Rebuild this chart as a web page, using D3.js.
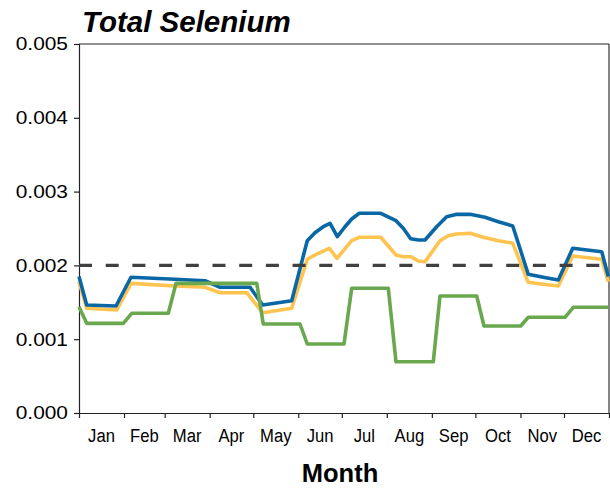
<!DOCTYPE html>
<html>
<head>
<meta charset="utf-8">
<script src="https://cdn.jsdelivr.net/npm/d3@7"></script>
<style>
  body { margin: 0; background: #fff; }
  svg { display: block; }
  text { font-family: "Liberation Sans", Arial, sans-serif; fill: #000; }
</style>
</head>
<body>
<svg id="chart" width="610" height="489"></svg>
<script>
// Day-of-year positions (0..365) and values (mg/L)
const months = ["Jan","Feb","Mar","Apr","May","Jun","Jul","Aug","Sep","Oct","Nov","Dec"];
const monthDays = [31,28,31,30,31,30,31,31,30,31,30,31];
const yTicks = [0, 0.001, 0.002, 0.003, 0.004, 0.005];
const threshold = 0.002;

const blueDays = [0,5.3,25.5,35.8,66.1,86.8,97.1,117.8,126.5,146.5,157.2,162.5,168.2,172.9,177.9,183.2,187.8,193,207.8,218.3,223.3,228.4,233.7,238.3,246.3,253.2,260.1,269.3,279.6,288.8,298.7,309.4,319.7,330.1,340,360,364.5];
const blueVals = [0.00185,0.001463,0.00145,0.001839,0.001812,0.001793,0.001703,0.001703,0.001463,0.001522,0.002335,0.002443,0.002524,0.00257,0.002389,0.002524,0.002629,0.002706,0.002706,0.002606,0.002503,0.002362,0.002344,0.002344,0.002524,0.00266,0.002692,0.002692,0.002652,0.002592,0.002534,0.001879,0.001839,0.001802,0.002232,0.002186,0.00185];

const yellowDays = [0,5.3,26,35.8,66.1,86.8,97.1,115.5,126.5,146.5,157.2,163.7,172.4,177.7,187.8,193,207.8,218.3,223.3,228.4,233.7,238.3,248.6,254.3,260.1,269.3,278.4,288.8,298.7,309.4,319.7,330.1,340,360,364.5];
const yellowVals = [0.001779,0.001419,0.001396,0.001757,0.001721,0.001703,0.00163,0.00163,0.001359,0.001419,0.002083,0.002154,0.002232,0.002096,0.002335,0.002381,0.002381,0.002141,0.002118,0.002118,0.00206,0.00205,0.002335,0.002402,0.002425,0.002435,0.002381,0.002335,0.0023,0.001771,0.001744,0.001721,0.002127,0.002083,0.001779];

const greenDays = [0,5.3,30.5,36.3,61.5,66.8,122.4,126.9,152.2,157.2,182.5,187.8,213,218.3,244,248.6,273.9,278.9,304.2,309.4,334.7,340.4,364.5];
const greenVals = [0.00144,0.001215,0.001215,0.001351,0.001351,0.001757,0.001757,0.001206,0.001206,0.000935,0.000935,0.00169,0.00169,0.000695,0.000695,0.001585,0.001585,0.001179,0.001179,0.001297,0.001297,0.001432,0.001432];

const svg = d3.select("#chart");
const L = 79, R = 609, T = 44, B = 413;

const x = d3.scaleLinear().domain([0, 365]).range([L, R]);
const y = d3.scaleLinear().domain([0, 0.005]).range([B, T]);

const bounds = [0];
monthDays.forEach(d => bounds.push(bounds[bounds.length - 1] + d));
const mids = months.map((m, i) => (bounds[i] + bounds[i + 1]) / 2);

// frame: top & right borders
svg.append("line").attr("x1", L).attr("x2", R).attr("y1", T).attr("y2", T)
  .attr("stroke", "#6e6e6e").attr("stroke-width", 1.5);
svg.append("line").attr("x1", R).attr("x2", R).attr("y1", T).attr("y2", B)
  .attr("stroke", "#333").attr("stroke-width", 1.2);

// y axis
const yAxis = svg.append("g").attr("transform", `translate(${L},0)`)
  .call(d3.axisLeft(y).tickValues(yTicks).tickFormat("").tickSize(5));
yAxis.selectAll("line,path").attr("stroke", "#222").attr("stroke-width", 1.2);
svg.append("g").selectAll("text").data(yTicks).join("text")
  .attr("transform", d => `translate(${L - 11},${y(d)}) scale(1.13,1)`)
  .attr("text-anchor", "end")
  .attr("dy", "0.35em")
  .style("font-size", "18.5px")
  .text(d3.format(".3f"));

// x axis (ticks at month boundaries)
const xAxis = svg.append("g").attr("transform", `translate(0,${B})`)
  .call(d3.axisBottom(x).tickValues(bounds).tickFormat("").tickSize(5).tickSizeOuter(0));
xAxis.selectAll("line,path").attr("stroke", "#222").attr("stroke-width", 1.2);

svg.append("g").selectAll("text").data(months).join("text")
  .attr("transform", (d, i) => `translate(${x(mids[i])},442) scale(0.9,1)`)
  .attr("text-anchor", "middle")
  .style("font-size", "18.5px")
  .text(d => d);

// series lines
const line = d3.line().x(d => x(d[0])).y(d => y(d[1]));
const series = [
  { days: yellowDays, vals: yellowVals, color: "#fec44f" },
  { days: blueDays, vals: blueVals, color: "#0a67a6" },
  { days: greenDays, vals: greenVals, color: "#6aa84f" }
];
series.forEach(s => {
  svg.append("path")
    .datum(s.days.map((d, i) => [d, s.vals[i]]))
    .attr("d", line)
    .attr("fill", "none")
    .attr("stroke", s.color)
    .attr("stroke-width", 3.6)
    .attr("stroke-linejoin", "round");
});

// threshold dashed line
svg.append("line")
  .attr("x1", x(0)).attr("x2", x(365))
  .attr("y1", y(threshold)).attr("y2", y(threshold))
  .attr("stroke", "#404040").attr("stroke-width", 3.4)
  .attr("stroke-dasharray", "13,13.7");

// title
svg.append("text").attr("x", 82).attr("y", 32)
  .style("font-size", "29.5px").style("font-weight", "bold").style("font-style", "italic")
  .text("Total Selenium");

// x axis title
svg.append("text").attr("x", 340).attr("y", 482)
  .attr("text-anchor", "middle")
  .style("font-size", "25.5px").style("font-weight", "bold")
  .text("Month");
</script>
</body>
</html>
